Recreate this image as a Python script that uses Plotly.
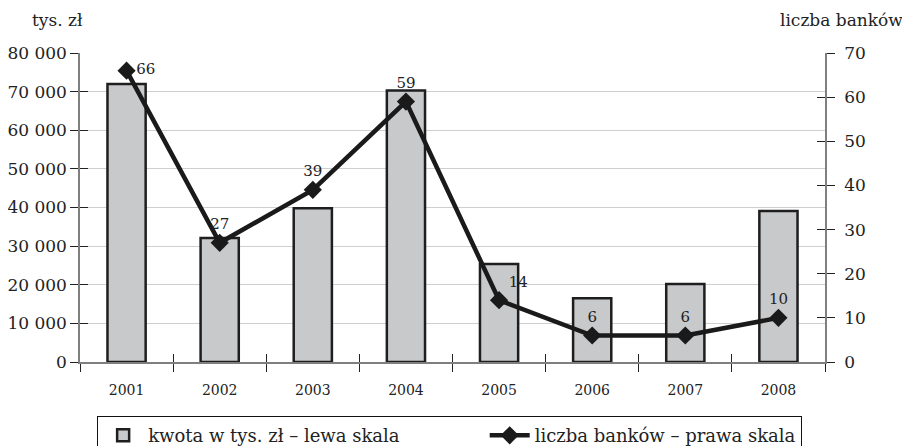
import plotly.graph_objects as go

years = ["2001", "2002", "2003", "2004", "2005", "2006", "2007", "2008"]
kwota = [72000, 32100, 39800, 70300, 25400, 16500, 20200, 39100]
banki = [66, 27, 39, 59, 14, 6, 6, 10]
left_ticks = [0, 10000, 20000, 30000, 40000, 50000, 60000, 70000, 80000]
left_labels = ["0", "10 000", "20 000", "30 000", "40 000", "50 000", "60 000", "70 000", "80 000"]
right_ticks = [0, 10, 20, 30, 40, 50, 60, 70]
label_pos = ["middle right", "top center", "top center", "top center", "top right",
             "top center", "top center", "top center"]

FONT = "DejaVu Serif"
AXC = "#7f7f7f"
TICKC = "#222222"
PAD = "\u00a0" * 14

fig = go.Figure()
fig.add_trace(go.Bar(
    x=years, y=kwota, name="kwota w tys. zł – lewa skala" + PAD,
    marker=dict(color="#c8c9cb", line=dict(color="#1e1e1e", width=2.5)),
    xaxis="x", yaxis="y", hoverinfo="skip",
))
fig.add_trace(go.Scatter(
    x=years, y=banki, name="liczba banków – prawa skala",
    mode="lines+markers+text", text=[str(v) for v in banki],
    textposition=label_pos, textfont=dict(family=FONT, size=15, color="#222"),
    line=dict(color="#1a1a1a", width=4.5),
    marker=dict(symbol="diamond", size=14, color="#1a1a1a"),
    xaxis="x", yaxis="y2", cliponaxis=False,
))
# invisible helpers for inner halves of crossing ticks
fig.add_trace(go.Scatter(x=[None], y=[None], xaxis="x2", yaxis="y3",
                         showlegend=False, hoverinfo="skip"))
fig.add_trace(go.Scatter(x=[None], y=[None], xaxis="x2", yaxis="y4",
                         showlegend=False, hoverinfo="skip"))

boundaries = [i - 0.5 for i in range(len(years) + 1)]

fig.update_layout(
    width=902, height=438,
    margin=dict(l=72, r=85, t=45, b=84, autoexpand=False),
    paper_bgcolor="white", plot_bgcolor="white",
    font=dict(family=FONT, size=17, color="#222"),
    bargap=0.59,
    showlegend=True,
    legend=dict(orientation="h", x=0.023, xanchor="left", y=-0.175, yanchor="top",
                bordercolor="#111", borderwidth=1, bgcolor="white",
                font=dict(family=FONT, size=18, color="#222"),
                itemwidth=40),
    xaxis=dict(type="category", categoryorder="array", categoryarray=years,
               range=[-0.5, 7.5], tickson="boundaries", ticks="outside", ticklen=8,
               tickwidth=1.2, tickcolor=TICKC, showline=True, linecolor=AXC, linewidth=2,
               showgrid=False, zeroline=False, ticklabelstandoff=14, automargin=False,
               tickfont=dict(family=FONT, size=14, color="#222")),
    xaxis2=dict(overlaying="x", range=[-0.5, 7.5], tickmode="array", tickvals=boundaries,
                ticks="inside", ticklen=8, tickwidth=1.2, tickcolor=TICKC,
                showticklabels=False, showline=False, showgrid=False, zeroline=False,
                anchor="y3", side="bottom", automargin=False),
    yaxis=dict(range=[0, 80000], tickmode="array", tickvals=left_ticks, ticktext=left_labels,
               ticks="outside", ticklen=8, tickwidth=1.2, tickcolor=TICKC,
               showline=True, linecolor=AXC, linewidth=1.5, automargin=False,
               showgrid=True, gridcolor="#cfcfcf", gridwidth=1, zeroline=False,
               tickfont=dict(family=FONT, size=17, color="#222")),
    yaxis2=dict(overlaying="y", side="right", range=[0, 70], tickmode="array",
                tickvals=right_ticks, ticks="outside", ticklen=8, tickwidth=1.2,
                tickcolor=TICKC, showline=True, linecolor=AXC, linewidth=1.5,
                showgrid=False, zeroline=False, ticklabelstandoff=6, automargin=False,
                tickfont=dict(family=FONT, size=17, color="#222")),
    yaxis3=dict(overlaying="y", side="left", range=[0, 80000], tickmode="array",
                tickvals=left_ticks, ticks="inside", ticklen=8, tickwidth=1.2,
                tickcolor=TICKC, showticklabels=False, showline=False, showgrid=False,
                zeroline=False, anchor="x2", automargin=False),
    yaxis4=dict(overlaying="y", side="right", range=[0, 70], tickmode="array",
                tickvals=right_ticks, ticks="inside", ticklen=8, tickwidth=1.2,
                tickcolor=TICKC, showticklabels=False, showline=False, showgrid=False,
                zeroline=False, anchor="x2", automargin=False),
    annotations=[
        dict(text="tys. zł", xref="paper", yref="paper", x=0, xshift=-50, y=1.0, yshift=33,
             xanchor="left", yanchor="middle", showarrow=False,
             font=dict(family=FONT, size=17, color="#222")),
        dict(text="liczba banków", xref="paper", yref="paper", x=1.0, xshift=80,
             y=1.0, yshift=33, xanchor="right", yanchor="middle", showarrow=False,
             font=dict(family=FONT, size=17, color="#222")),
    ],
)

fig.write_html("out.html")
